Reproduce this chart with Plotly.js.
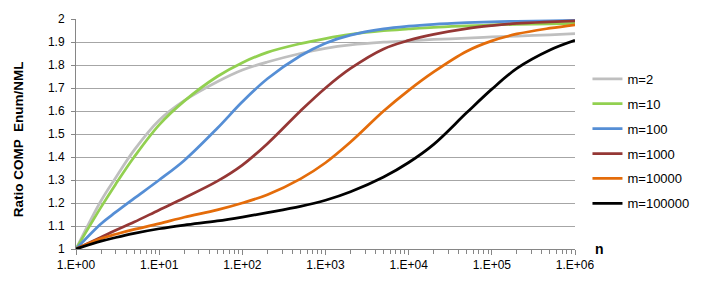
<!DOCTYPE html>
<html><head><meta charset="utf-8">
<script src="https://cdn.plot.ly/plotly-3.0.1.min.js"></script>
<style>html,body{margin:0;padding:0;background:#fff}#chart{width:706px;height:283px}</style>
</head><body><div id="chart"></div>
<script>
// sample sizes n (x axis, log scale)
const nValues = [1, 2, 3, 5, 10, 20, 50, 100, 200, 500, 1e3, 2e3, 5e3, 1e4, 2e4, 5e4, 1e5, 2e5, 5e5, 1e6];
const seriesNames = ['m=2', 'm=10', 'm=100', 'm=1000', 'm=10000', 'm=100000'];
// Ratio COMP Enum/NML
const ratioM2      = [1.0, 1.21, 1.31, 1.43, 1.56, 1.645, 1.727, 1.778, 1.813, 1.85, 1.872, 1.887, 1.899, 1.905, 1.911, 1.917, 1.922, 1.926, 1.931, 1.936];
const ratioM10     = [1.0, 1.182, 1.282, 1.40, 1.54, 1.643, 1.75, 1.81, 1.855, 1.893, 1.915, 1.933, 1.949, 1.957, 1.964, 1.97, 1.974, 1.977, 1.979, 1.981];
const ratioM100    = [1.0, 1.11, 1.16, 1.22, 1.30, 1.385, 1.525, 1.64, 1.74, 1.84, 1.895, 1.93, 1.957, 1.969, 1.977, 1.984, 1.988, 1.99, 1.992, 1.994];
const ratioM1000   = [1.0, 1.051, 1.081, 1.117, 1.17, 1.222, 1.295, 1.365, 1.458, 1.60, 1.70, 1.785, 1.87, 1.907, 1.933, 1.958, 1.971, 1.981, 1.988, 1.992];
const ratioM10000  = [1.0, 1.045, 1.064, 1.085, 1.11, 1.138, 1.17, 1.20, 1.236, 1.305, 1.375, 1.465, 1.60, 1.69, 1.77, 1.86, 1.905, 1.935, 1.96, 1.975];
const ratioM100000 = [1.0, 1.034, 1.05, 1.068, 1.088, 1.104, 1.122, 1.139, 1.158, 1.185, 1.212, 1.249, 1.313, 1.376, 1.455, 1.593, 1.695, 1.785, 1.865, 1.907];

const xTickVals = [1, 10, 100, 1000, 10000, 100000, 1000000];
const xTickText = ['1.E+00', '1.E+01', '1.E+02', '1.E+03', '1.E+04', '1.E+05', '1.E+06'];
const yTickVals = [1, 1.1, 1.2, 1.3, 1.4, 1.5, 1.6, 1.7, 1.8, 1.9, 2];
const yTickText = ['1', '1.1', '1.2', '1.3', '1.4', '1.5', '1.6', '1.7', '1.8', '1.9', '2'];
const yTitle = 'Ratio COMP  Enum/NML';
const xTitle = 'n';

const allSeries = [ratioM2, ratioM10, ratioM100, ratioM1000, ratioM10000, ratioM100000];
const colors = ['#BFBFBF', '#92D050', '#558ED5', '#953735', '#E46C0A', '#000000'];
const FONT = 'Liberation Sans, Arial, sans-serif';

const traces = allSeries.map((ys, i) => ({
  type: 'scatter', mode: 'lines', name: seriesNames[i], legendgroup: 'g' + i,
  x: nValues, y: ys,
  line: {color: colors[i], width: 2.75, shape: 'spline', smoothing: 1}
}));

const layout = {
  width: 706, height: 283,
  margin: {l: 76, r: 125, t: 19, b: 34, pad: 0},
  paper_bgcolor: '#fff', plot_bgcolor: '#fff',
  font: {family: FONT, size: 12, color: '#000'},
  showlegend: true,
  legend: {x: 1.025, xanchor: 'left', y: 0.805, yanchor: 'top', font: {family: FONT, size: 13, color: '#000'},
           traceorder: 'grouped', tracegroupgap: 5, bgcolor: 'rgba(0,0,0,0)', borderwidth: 0},
  xaxis: {type: 'log', range: [0, 6], showgrid: false, zeroline: false,
          showline: true, linecolor: '#868686', linewidth: 1,
          ticks: 'outside', ticklen: 5, tickcolor: '#868686', tickwidth: 1,
          tickvals: xTickVals, ticktext: xTickText,
          tickfont: {family: FONT, size: 12, color: '#000'},
          minor: {ticks: 'outside', ticklen: 4, tickcolor: '#868686', dtick: 'D1', showgrid: false}},
  yaxis: {range: [1, 2], zeroline: false, showline: true, linecolor: '#868686', linewidth: 1,
          ticks: 'outside', ticklen: 4, tickcolor: '#868686',
          showgrid: true, gridcolor: '#A6A6A6', gridwidth: 1,
          tickvals: yTickVals, ticktext: yTickText, ticklabelstandoff: 4,
          tickfont: {family: FONT, size: 12, color: '#000'}},
  annotations: [
    {text: yTitle, xref: 'paper', yref: 'paper', x: -0.115, y: 0.475, textangle: -90,
     showarrow: false, font: {family: FONT, size: 13.5, color: '#000', weight: 'bold'}, xanchor: 'center', yanchor: 'middle'},
    {text: xTitle, xref: 'paper', yref: 'paper', x: 1.05, y: 0.0, xanchor: 'center', yanchor: 'middle',
     showarrow: false, font: {family: FONT, size: 14, color: '#000', weight: 'bold'}}
  ]
};

Plotly.newPlot('chart', traces, layout, {displayModeBar: false, staticPlot: true});
</script></body></html>
